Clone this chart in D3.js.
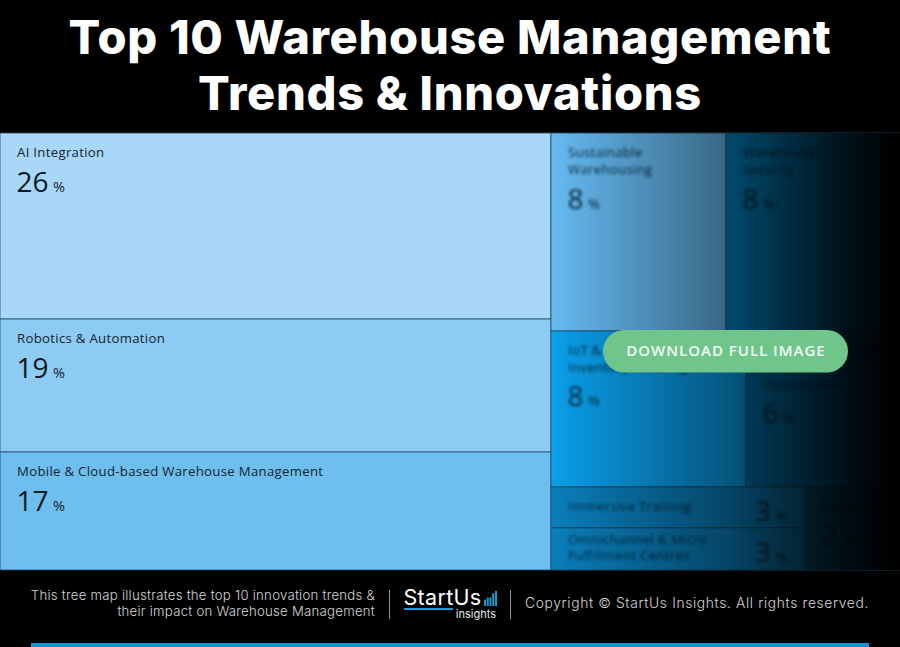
<!DOCTYPE html>
<html><head><meta charset="utf-8">
<style>html,body{margin:0;padding:0;background:#000}svg{display:block}</style>
<script src="https://cdn.jsdelivr.net/npm/d3@7/dist/d3.min.js"></script>
</head><body><svg id="c" width="900" height="647"></svg>
<script>
// ---- data ----
const titleLines = ["Top 10 Warehouse Management", "Trends & Innovations"];
const leftNames = ["AI Integration", "Robotics & Automation", "Mobile & Cloud-based Warehouse Management"];
const leftPercents = [26, 19, 17];
const leftAreas = [26.06, 18.63, 16.53];
const topNames = [["Sustainable", "Warehousing"], ["Warehouse", "Security"]];
const topPercents = [8, 8];
const topAreas = [8.81, 8.76];
const midNames = [["IoT & Real-time", "Inventory Tracking"], ["Warehouse Layout &", "Space", "Optimization"]];
const midPercents = [8, 6];
const midAreas = [7.73, 6.11];
const stackNames = [["Immersive Training"], ["Omnichannel & Micro", "Fulfillment Centres"]];
const stackPercents = [3, 3];
const stackAreas = [2.65, 2.72];
const lastName = [["Blockchain"]];
const lastPercent = [2];
const lastArea = [2.0];
const leftColors = ["#a8d7f7", "#8dcbf3", "#6fbfee"];
const topColors = ["#66bbf2", "#0088c8"];
const midColors = ["#0aa0ea", "#0077b2"];
const stackColors = ["#0a7fbc", "#0a7fbc"];
const lastColors = ["#075f8e"];
const footerLeft = ["This tree map illustrates the top 10 innovation trends &", "their impact on Warehouse Management"];
const copyright = "Copyright © StartUs Insights. All rights reserved.";
const logoBars = [3, 4, 4, 6, 7];

const svg = d3.select("#c");
const W = 900, H = 647, mapTop = 133, mapBottom = 570;

const leaves = (names, pct, areas, colors, blurred, inline) =>
  names.map((n, i) => ({name: n, pct: pct[i], value: areas[i], color: colors[i], blurred, inline}));
const tree = {children: [
  {tile: "slice", children: leaves(leftNames.map(n => [n]), leftPercents, leftAreas, leftColors, false, false)},
  {tile: "slice", children: [
    {tile: "dice", children: leaves(topNames, topPercents, topAreas, topColors, true, false)},
    {tile: "dice", children: leaves(midNames, midPercents, midAreas, midColors, true, false)},
    {tile: "dice", children: [
      {tile: "slice", children: leaves(stackNames, stackPercents, stackAreas, stackColors, true, true)},
      ...leaves(lastName, lastPercent, lastArea, lastColors, true, false)
    ]}
  ]}
], tile: "dice"};

const root = d3.hierarchy(tree).sum(d => d.value || 0);
d3.treemap()
  .size([W, mapBottom - mapTop])
  .paddingInner(0).paddingOuter(0)
  .tile((n, x0, y0, x1, y1) => (n.data.tile === "slice" ? d3.treemapSlice : d3.treemapDice)(n, x0, y0, x1, y1))(root);

const defs = svg.append("defs");
const blur = defs.append("filter").attr("id", "soft").attr("x", "-10%").attr("y", "-30%").attr("width", "120%").attr("height", "160%");
blur.append("feGaussianBlur").attr("stdDeviation", 1.7);
const fade = defs.append("linearGradient").attr("id", "fade").attr("gradientUnits", "userSpaceOnUse")
  .attr("x1", 551).attr("x2", 900).attr("y1", 0).attr("y2", 0);
[[0, 0], [0.5, 0.45], [0.8, 0.82], [0.97, 1], [1, 1]].forEach(([o, a]) =>
  fade.append("stop").attr("offset", o).attr("stop-color", "#000").attr("stop-opacity", a));

svg.append("rect").attr("width", W).attr("height", H).attr("fill", "#000");

const g = svg.append("g").attr("transform", `translate(0,${mapTop})`);
const cells = g.selectAll("g.cell").data(root.leaves()).join("g").attr("class", "cell")
  .attr("transform", d => `translate(${d.x0},${d.y0})`);
cells.append("rect")
  .attr("width", d => d.x1 - d.x0).attr("height", d => d.y1 - d.y0)
  .attr("fill", d => d.data.color).attr("stroke", "#1d4a68").attr("stroke-width", 0.8);

const labels = cells.append("g").attr("filter", d => d.data.blurred ? "url(#soft)" : null)
  .attr("font-family", "'Open Sans','Noto Sans',sans-serif");
labels.each(function (d) {
  const s = d3.select(this), lines = d.data.name, blurred = d.data.blurred;
  const col = blurred ? "#0b2a40" : "#14242f";
  const inline = d.data.inline;
  const first = inline && lines.length > 1 ? 16.5 : 24;
  const step = inline ? 16 : 17;
  lines.forEach((t, i) => s.append("text").attr("x", 17).attr("y", first + i * step)
    .attr("font-size", 13.2).attr("letter-spacing", 0.3).attr("fill", col).text(t));
  const nx = inline ? 204 : 16.5;
  const ny = inline ? 34 : 24 + lines.length * 17 + 17.5;
  s.append("text").attr("x", nx).attr("y", ny).attr("font-size", 28).attr("fill", blurred ? "#0b2a40" : "#0c1820").text(d.data.pct);
  s.append("text").attr("x", nx + (String(d.data.pct).length === 2 ? 36.5 : 20.5)).attr("y", ny).attr("font-size", 14.5).attr("fill", col).text("%");
});

svg.append("rect").attr("x", 551).attr("y", mapTop).attr("width", 349).attr("height", mapBottom - mapTop).attr("fill", "url(#fade)");

// title
svg.append("g").selectAll("text").data(titleLines).join("text")
  .attr("x", W / 2).attr("y", (d, i) => 54 + i * 56)
  .attr("text-anchor", "middle").attr("fill", "#fff")
  .attr("font-family", "Inter,'Open Sans',sans-serif").attr("font-weight", 800).attr("font-size", 47).attr("letter-spacing", 0.7)
  .text(d => d);

// button
svg.append("rect").attr("x", 603).attr("y", 330).attr("width", 245).attr("height", 42.5).attr("rx", 21.2).attr("fill", "#6fc58a");
svg.append("text").attr("x", 726).attr("y", 356).attr("text-anchor", "middle").attr("fill", "#f2fbf5")
  .attr("font-family", "'Open Sans',sans-serif").attr("font-weight", 600).attr("font-size", 15).attr("letter-spacing", 1)
  .text("DOWNLOAD FULL IMAGE");

// footer
const ff = "Inter,'Noto Sans',sans-serif";
svg.append("g").selectAll("text").data(footerLeft).join("text")
  .attr("x", 375).attr("y", (d, i) => 600 + i * 16).attr("text-anchor", "end").attr("fill", "#d4d4d4")
  .attr("font-family", ff).attr("font-weight", 300).attr("font-size", 13.2).attr("letter-spacing", 0.25).text(d => d);
svg.append("text").attr("x", 869).attr("y", 608).attr("text-anchor", "end").attr("fill", "#d4d4d4")
  .attr("font-family", ff).attr("font-weight", 300).attr("font-size", 13.8).attr("letter-spacing", 0.65).text(copyright);
[389.5, 510.5].forEach(x => svg.append("line").attr("x1", x).attr("x2", x).attr("y1", 590).attr("y2", 619).attr("stroke", "#bbb").attr("stroke-width", 0.8));

// logo
svg.append("text").attr("x", 403.5).attr("y", 605).attr("fill", "#fff").attr("font-family", "Inter,sans-serif")
  .attr("font-weight", 400).attr("font-size", 21.5).attr("letter-spacing", 0.3).text("StartUs");
svg.append("rect").attr("x", 404).attr("y", 608).attr("width", 49).attr("height", 2).attr("fill", "#1e9bd7");
svg.append("text").attr("x", 496).attr("y", 617.5).attr("text-anchor", "end").attr("fill", "#e8e8e8").attr("font-family", "Inter,sans-serif")
  .attr("font-size", 11).text("insights");
const bx = d3.scaleBand().domain(d3.range(logoBars.length)).range([484, 497]).paddingInner(0.3);
const by = d3.scaleLinear().domain([0, 7]).range([606, 591]);
svg.append("g").selectAll("rect").data(logoBars).join("rect")
  .attr("x", (d, i) => bx(i)).attr("width", bx.bandwidth()).attr("y", d => by(d)).attr("height", d => by(0) - by(d)).attr("fill", "#1e9bd7");

// bottom band
svg.append("rect").attr("x", 31).attr("y", 643).attr("width", 838).attr("height", 4).attr("fill", "#1496d2");
</script></body></html>
